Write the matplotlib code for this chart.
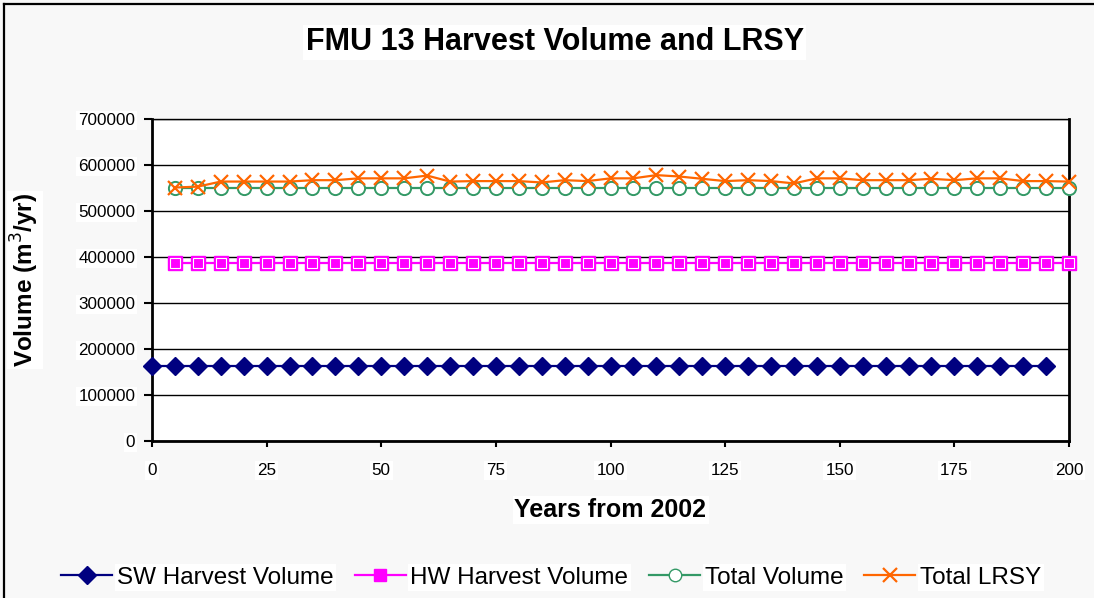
import numpy as np
import matplotlib
matplotlib.use("Agg")
import matplotlib.pyplot as plt
from matplotlib.lines import Line2D

plt.rcParams['font.family'] = ['Liberation Sans', 'DejaVu Sans']

# Data
years_sw = list(range(0, 200, 5))
years = list(range(5, 205, 5))
sw_volume = [162000] * 40
hw_volume = [387000] * 40
total_volume = [549000] * 40
total_lrsy = [551000, 553000, 564000, 564000, 564000, 564000, 567000, 567000,
              571000, 571000, 571000, 577000, 564000, 565000, 565000, 565000,
              562000, 567000, 565000, 571000, 571000, 578000, 575000, 570000,
              565000, 567000, 565000, 560000, 571000, 571000, 567000, 567000,
              567000, 570000, 567000, 571000, 571000, 565000, 565000, 564000]
y_ticks = [0, 100000, 200000, 300000, 400000, 500000, 600000, 700000]
x_ticks = [0, 25, 50, 75, 100, 125, 150, 175, 200]

W, H = 1094, 598
fig = plt.figure(figsize=(W / 100, H / 100), dpi=100, facecolor='#f8f8f8')
ax = fig.add_axes([152 / W, 1 - 441 / H, (1069 - 152) / W, (441 - 119) / H])
ax.set_facecolor('white')

white = dict(facecolor='white', edgecolor='none', pad=1.5)

# Series
ax.plot(years_sw, sw_volume, color='#000080', lw=1.6, marker='D', ms=9.5,
        mfc='#000080', mec='#000080', zorder=3, clip_on=False, label='SW Harvest Volume')
ax.plot(years, hw_volume, color='#ff00ff', lw=1.6, marker='s', ms=10,
        mfc='#ff00ff', mec='#ff00ff', zorder=3, clip_on=False, label='HW Harvest Volume')
ax.plot(years, hw_volume, ls='none', marker='s', ms=7, mfc='#ff00ff', mec='white',
        mew=0.8, zorder=3.1, clip_on=False)
ax.plot(years, total_volume, color='#339966', lw=1.6, marker='o', ms=9.5,
        mfc='white', mec='#339966', mew=1.4, zorder=4, clip_on=False, label='Total Volume')
ax.plot(years, total_lrsy, color='#ff6600', lw=1.6, marker='x', ms=10,
        mec='#ff6600', mew=1.6, zorder=5, clip_on=False, label='Total LRSY')

# Axes, grid, ticks
ax.set_xlim(0, 200)
ax.set_ylim(0, 700000)
ax.set_xticks(x_ticks)
ax.set_yticks(y_ticks)
ax.set_xticklabels([str(t) for t in x_ticks])
ax.set_yticklabels([str(t) for t in y_ticks])
ax.yaxis.grid(True, color='black', lw=1)
ax.set_axisbelow(True)
for side in ['left', 'right', 'bottom']:
    ax.spines[side].set_linewidth(2)
ax.spines['top'].set_linewidth(1)
ax.tick_params(axis='y', direction='out', length=6, width=1.5, labelsize=12.3, pad=6)
ax.tick_params(axis='x', direction='out', length=4, width=1.5, labelsize=12.3, pad=12)
for lbl in ax.get_xticklabels() + ax.get_yticklabels():
    lbl.set_bbox(white)

ax.set_xlabel('Years from 2002', fontsize=18, fontweight='bold', bbox=white)
ax.xaxis.set_label_coords(0.5, -0.178)
ax.set_ylabel('Volume (m$^3$/yr)', fontsize=17.5, fontweight='bold', bbox=white)
ax.yaxis.set_label_coords(-0.121, 0.5)

fig.text(0.507, 0.929, 'FMU 13 Harvest Volume and LRSY', ha='center', va='center',
         fontsize=22, fontweight='bold', bbox=white)

# Legend along the bottom
handles = [
    Line2D([], [], color='#000080', lw=1.6, marker='D', ms=9.5, mfc='#000080'),
    Line2D([], [], color='#ff00ff', lw=1.6, marker='s', ms=9, mfc='#ff00ff'),
    Line2D([], [], color='#339966', lw=1.6, marker='o', ms=9, mfc='white', mec='#339966'),
    Line2D([], [], color='#ff6600', lw=1.6, marker='x', ms=10, mec='#ff6600', mew=1.6),
]
labels = ['SW Harvest Volume', 'HW Harvest Volume', 'Total Volume', 'Total LRSY']
leg = fig.legend(handles, labels, loc='center', bbox_to_anchor=(0.504, 0.034), ncol=4,
                 frameon=False, fontsize=17.5, handlelength=2.1, handletextpad=0.2,
                 columnspacing=0.85)
for t in leg.get_texts():
    t.set_bbox(white)

# Chart border (only left and top edges are visible in the crop)
fig.add_artist(Line2D([3.5 / W, 3.5 / W], [0, 1 - 3.5 / H], color='black', lw=1.6))
fig.add_artist(Line2D([3.5 / W, 1], [1 - 3.5 / H, 1 - 3.5 / H], color='black', lw=1.6))

fig.savefig('out.png', dpi=100, facecolor=fig.get_facecolor())
